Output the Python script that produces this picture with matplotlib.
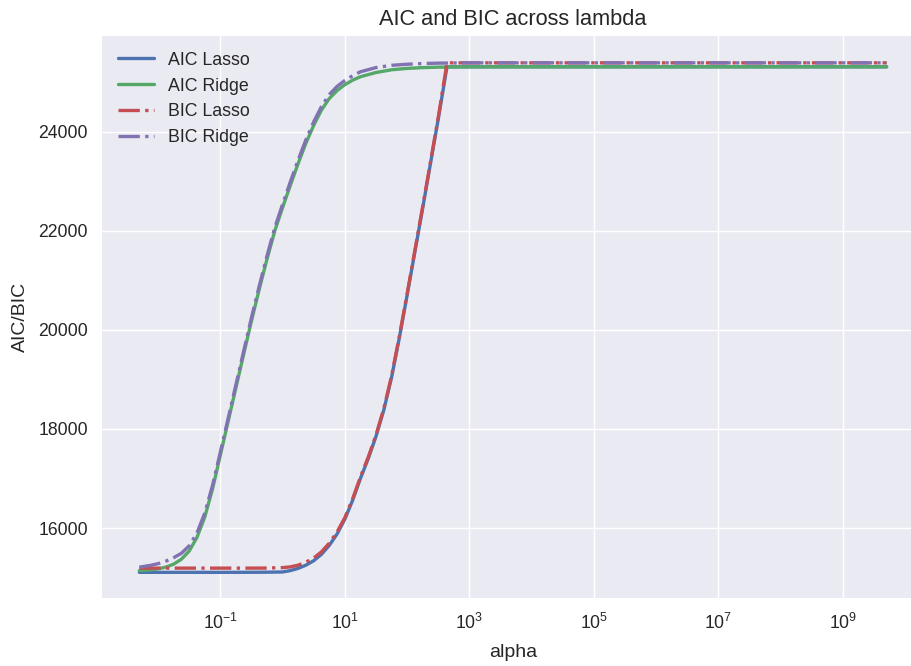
import numpy as np
import matplotlib
matplotlib.use("Agg")
import matplotlib.pyplot as plt

# log10(alpha) knots (ridge and lasso curves)
ridge_log_alpha = [-2.3, -2.125, -2.0, -1.875, -1.75, -1.625, -1.5, -1.375, -1.25, -1.125,
                   -1.0, -0.875, -0.75, -0.625, -0.5, -0.375, -0.25, -0.125, 0.0, 0.125,
                   0.25, 0.375, 0.5, 0.625, 0.75, 0.875, 1.0, 1.125, 1.25, 1.5,
                   1.75, 2.0, 2.25, 2.5, 3.0, 4.0, 6.0, 8.0, 9.7]

aic_ridge = [15140, 15155, 15175, 15210, 15270, 15370, 15535, 15810, 16220, 16790,
             17470, 18150, 18830, 19510, 20180, 20820, 21430, 22000, 22470, 22920,
             23360, 23770, 24130, 24440, 24670, 24830, 24950, 25040, 25110, 25195,
             25250, 25278, 25294, 25303, 25310, 25310, 25310, 25310, 25310]

bic_ridge = [15210, 15245, 15280, 15330, 15400, 15490, 15640, 15900, 16300, 16860,
             17530, 18210, 18890, 19570, 20245, 20885, 21495, 22065, 22535, 22990,
             23430, 23840, 24200, 24510, 24750, 24915, 25035, 25130, 25210, 25295,
             25340, 25362, 25376, 25384, 25390, 25390, 25390, 25390, 25390]

lasso_log_alpha = [-2.3, -1.0, -0.5, -0.25, 0.0, 0.125, 0.25, 0.375, 0.5, 0.625,
                   0.75, 0.875, 1.0, 1.125, 1.25, 1.375, 1.5, 1.625, 1.75, 1.875,
                   2.0, 2.125, 2.25, 2.375, 2.5, 2.64, 3.0, 5.0, 7.0, 9.7]

aic_lasso = [15105, 15105, 15106, 15108, 15112, 15140, 15185, 15250, 15340, 15470,
             15650, 15880, 16180, 16560, 17000, 17400, 17850, 18380, 19040, 19840,
             20700, 21580, 22460, 23360, 24260, 25310, 25310, 25310, 25310, 25310]

bic_lasso = [15190, 15190, 15190, 15192, 15200, 15215, 15250, 15310, 15395, 15520,
             15695, 15920, 16210, 16590, 17030, 17430, 17880, 18410, 19070, 19870,
             20730, 21610, 22490, 23390, 24290, 25390, 25390, 25390, 25390, 25390]

x_ticks = [1e-1, 1e1, 1e3, 1e5, 1e7, 1e9]
y_ticks = [16000, 18000, 20000, 22000, 24000]

plt.style.use("seaborn-v0_8")
plt.rcParams["font.family"] = ["Liberation Sans", "DejaVu Sans"]

ridge_alpha = 10 ** np.array(ridge_log_alpha)
lasso_alpha = 10 ** np.array(lasso_log_alpha)

fig = plt.figure(figsize=(9.12, 6.66), dpi=100)
# the axes run a little past the right edge, as in the original image
ax = fig.add_axes([102 / 912, 68 / 666, 822 / 912, 562.3 / 666])

lw = 2.4
ax.plot(lasso_alpha, aic_lasso, color="#4C72B0", lw=lw, label="AIC Lasso")
ax.plot(ridge_alpha, aic_ridge, color="#55A868", lw=lw, label="AIC Ridge")
ax.plot(lasso_alpha, bic_lasso, color="#C44E52", lw=lw, ls="-.", label="BIC Lasso")
ax.plot(ridge_alpha, bic_ridge, color="#8172B2", lw=lw, ls="-.", label="BIC Ridge")

ax.set_xscale("log")
ax.set_xlim(10 ** -2.9, 10 ** 10.3)
ax.set_ylim(14587, 25938)
ax.set_xticks(x_ticks)
ax.set_yticks(y_ticks)
ax.tick_params(axis="x", labelsize=12.7, pad=11)
ax.tick_params(axis="y", labelsize=12.7, pad=10)
ax.set_xlabel("alpha", fontsize=14, labelpad=8)
ax.set_ylabel("AIC/BIC", fontsize=14, labelpad=7)
ax.set_title("AIC and BIC across lambda", fontsize=15.7, pad=7.5)
ax.legend(loc="upper left", fontsize=12.8)

fig.savefig("out.png", dpi=100)
